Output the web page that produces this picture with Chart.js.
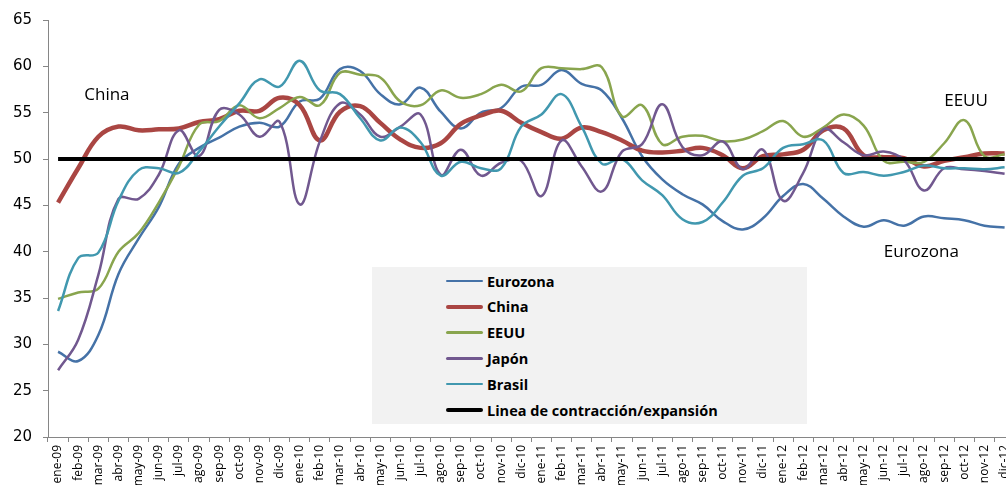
<!DOCTYPE html>
<html>
<head>
<meta charset="utf-8">
<script src="https://cdn.jsdelivr.net/npm/chart.js@4.4.1/dist/chart.umd.min.js"></script>
<style>
html, body { margin: 0; padding: 0; overflow: hidden; background: #fff; width: 1006px; height: 485px; }
#wrap { position: relative; width: 1022px; height: 485px; }
#legend { position: absolute; left: 372px; top: 267px; width: 435px; height: 157px; background: #f2f2f2;
  font-family: 'Open Sans', sans-serif; font-weight: bold; font-size: 14.5px; color: #000; }
.row { position: absolute; left: 74px; height: 20px; display: flex; align-items: center; white-space: nowrap; }
.swatch { width: 37px; margin-right: 4px; border-radius: 2px; }
</style>
</head>
<body>
<div id="wrap">
  <canvas id="myChart" width="1022" height="485"></canvas>
  <div id="legend"></div>
</div>
<script>
var months = ['ene-09', 'feb-09', 'mar-09', 'abr-09', 'may-09', 'jun-09', 'jul-09', 'ago-09', 'sep-09', 'oct-09', 'nov-09', 'dic-09',
    'ene-10', 'feb-10', 'mar-10', 'abr-10', 'may-10', 'jun-10', 'jul-10', 'ago-10', 'sep-10', 'oct-10', 'nov-10', 'dic-10',
    'ene-11', 'feb-11', 'mar-11', 'abr-11', 'may-11', 'jun-11', 'jul-11', 'ago-11', 'sep-11', 'oct-11', 'nov-11', 'dic-11',
    'ene-12', 'feb-12', 'mar-12', 'abr-12', 'may-12', 'jun-12', 'jul-12', 'ago-12', 'sep-12', 'oct-12', 'nov-12', 'dic-12'];

var eurozona = [29.2, 28.2, 31.0, 37.6, 41.4, 44.8, 49.5, 51.2, 52.3, 53.5, 53.9, 53.5,
    56.2, 56.5, 59.7, 59.5, 57.0, 55.9, 57.7, 55.1, 53.3, 55.0, 55.5, 57.8,
    58.0, 59.6, 58.1, 57.4, 54.4, 50.3, 47.8, 46.2, 45.1, 43.3, 42.4, 43.6,
    46.0, 47.3, 45.7, 43.8, 42.7, 43.4, 42.8, 43.8, 43.6, 43.4, 42.8, 42.6];
var china = [45.3, 49.0, 52.4, 53.5, 53.1, 53.2, 53.3, 54.0, 54.3, 55.2, 55.2, 56.6,
    55.8, 52.0, 55.1, 55.7, 53.9, 52.1, 51.2, 51.7, 53.8, 54.7, 55.2, 53.9,
    52.9, 52.2, 53.4, 52.9, 52.0, 50.9, 50.7, 50.9, 51.2, 50.4, 49.0, 50.3,
    50.5, 51.0, 53.1, 53.3, 50.4, 50.2, 50.1, 49.2, 49.8, 50.2, 50.6, 50.6];
var eeuu = [34.9, 35.6, 36.0, 40.0, 42.0, 45.3, 49.2, 53.7, 54.1, 55.8, 54.4, 55.5,
    56.7, 55.8, 59.3, 59.1, 58.8, 56.2, 55.8, 57.4, 56.6, 57.0, 58.0, 57.3,
    59.8, 59.8, 59.7, 59.9, 54.6, 55.8, 51.6, 52.4, 52.5, 51.9, 52.1, 53.0,
    54.1, 52.4, 53.4, 54.8, 53.6, 49.8, 49.7, 49.7, 51.7, 54.2, 50.3, 50.5];
var japon = [27.2, 30.5, 37.5, 45.7, 45.7, 48.3, 53.1, 50.3, 55.3, 54.8, 52.4, 54.0,
    45.1, 51.9, 56.0, 54.8, 52.4, 53.5, 54.8, 48.3, 51.0, 48.2, 49.6, 49.8,
    46.0, 52.0, 49.2, 46.5, 50.8, 51.6, 55.9, 51.3, 50.4, 51.9, 48.9, 51.0,
    45.5, 48.5, 53.2, 51.8, 50.4, 50.8, 49.9, 46.6, 49.0, 48.9, 48.7, 48.4];
var brasil = [33.6, 39.3, 39.9, 45.5, 48.8, 49.0, 48.5, 50.8, 53.5, 56.0, 58.6, 57.8,
    60.6, 57.4, 57.0, 54.4, 52.0, 53.4, 51.8, 48.2, 49.7, 49.0, 49.0, 53.5,
    54.8, 57.0, 53.5, 49.5, 50.0, 47.7, 46.1, 43.5, 43.2, 45.3, 48.2, 49.0,
    51.2, 51.6, 52.0, 48.5, 48.6, 48.2, 48.6, 49.3, 49.0, 49.0, 48.9, 49.1];
var linea = [50, 50, 50, 50, 50, 50, 50, 50, 50, 50, 50, 50,
    50, 50, 50, 50, 50, 50, 50, 50, 50, 50, 50, 50,
    50, 50, 50, 50, 50, 50, 50, 50, 50, 50, 50, 50,
    50, 50, 50, 50, 50, 50, 50, 50, 50, 50, 50, 50];

var yTicks = [20, 25, 30, 35, 40, 45, 50, 55, 60, 65];

// labels written on the plot
var notes = [
    { text: 'China', at: 1.3, value: 56.9 },
    { text: 'EEUU', at: 44.0, value: 56.2 },
    { text: 'Eurozona', at: 41.0, value: 39.9 }
];

var notesPlugin = {
    id: 'notes',
    afterDatasetsDraw: function(chart) {
        var ctx = chart.ctx;
        var x = chart.scales.x;
        var y = chart.scales.y;
        ctx.save();
        ctx.font = '17px "Open Sans"';
        ctx.fillStyle = '#000';
        ctx.textBaseline = 'middle';
        notes.forEach(function(n) {
            ctx.fillText(n.text, x.getPixelForValue(n.at), y.getPixelForValue(n.value));
        });
        ctx.restore();
    }
};

function serie(label, data, color, width, order) {
    return {
        label: label,
        data: data,
        borderColor: color,
        backgroundColor: color,
        borderWidth: width,
        pointRadius: 0,
        tension: 0.4,
        fill: false,
        order: order
    };
}

var ctx = document.getElementById('myChart').getContext('2d');
var myChart = new Chart(ctx, {
    type: 'line',
    data: {
        labels: months,
        datasets: [
            serie('Eurozona', eurozona, '#4572A7', 2.5, 6),
            serie('China', china, '#AA4643', 4.5, 5),
            serie('EEUU', eeuu, '#89A54E', 2.5, 4),
            serie('Japón', japon, '#71588F', 2.5, 3),
            serie('Brasil', brasil, '#4198AF', 2.5, 2),
            serie('Linea de contracción/expansión', linea, '#000000', 4, 1)
        ]
    },
    options: {
        responsive: false,
        animation: false,
        layout: { padding: { top: 18, left: 0, right: 0, bottom: 0 } },
        plugins: {
            legend: { display: false },
            tooltip: { enabled: false }
        },
        scales: {
            x: {
                offset: true,
                grid: { offset: true, drawOnChartArea: false, drawTicks: true, tickLength: 5, color: '#868686' },
                border: { color: '#868686', width: 1 },
                ticks: {
                    autoSkip: false, minRotation: 90, maxRotation: 90, padding: 3,
                    color: '#000', font: { family: 'Open Sans', size: 12 }
                },
                afterFit: function(s) { s.height = 48; }
            },
            y: {
                min: 20,
                max: 65,
                afterBuildTicks: function(s) { s.ticks = yTicks.map(function(v) { return { value: v }; }); },
                grid: { drawOnChartArea: false, drawTicks: true, tickLength: 5, color: '#868686' },
                border: { color: '#868686', width: 1 },
                ticks: { padding: 11, color: '#000', font: { family: 'DejaVu Sans', size: 15 } },
                afterFit: function(s) { s.width = 48; }
            }
        }
    },
    plugins: [notesPlugin]
});

// legend box inside the plot, built from the datasets
var legend = document.getElementById('legend');
myChart.data.datasets.forEach(function(ds, i) {
    var row = document.createElement('div');
    row.className = 'row';
    row.style.top = (4 + i * 25.8) + 'px';
    var sw = document.createElement('span');
    sw.className = 'swatch';
    sw.style.height = ds.borderWidth + 'px';
    sw.style.background = ds.borderColor;
    var tx = document.createElement('span');
    tx.textContent = ds.label;
    row.appendChild(sw);
    row.appendChild(tx);
    legend.appendChild(row);
});
</script>
</body>
</html>
